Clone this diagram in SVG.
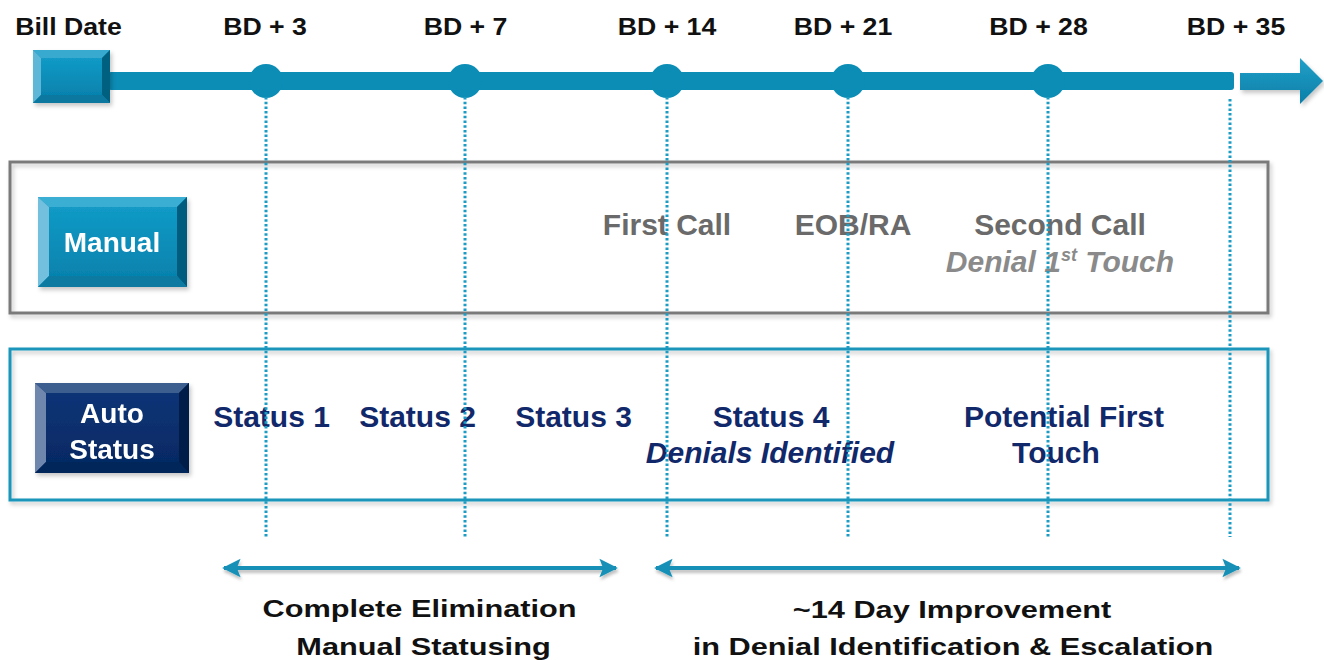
<svg xmlns="http://www.w3.org/2000/svg" width="1324" height="660" viewBox="0 0 1324 660">
  <defs>
    <style>
      .lbl { font-family: "Liberation Sans", Arial, sans-serif; font-weight: bold; text-anchor: middle; }
      .top { font-size: 23.5px; fill: #111111; }
      .btn { font-size: 28px; fill: #ffffff; }
      .man { font-size: 30px; fill: #6a6a6a; }
      .man-it { font-size: 30px; fill: #8a8a8a; font-style: italic; }
      .auto { font-size: 30px; fill: #11286a; }
      .auto-it { font-size: 30px; fill: #11286a; font-style: italic; }
      .foot { font-size: 24.5px; fill: #111111; }
      .guide { stroke: #1a9cc4; stroke-width: 3; stroke-dasharray: 2.5 2.2; fill: none; }
      .span { stroke: #1690b6; stroke-width: 4; fill: none; }
    </style>
    <linearGradient id="arrowFill" x1="0" y1="0" x2="0" y2="1">
      <stop offset="0" stop-color="#22a0c8"/>
      <stop offset="1" stop-color="#0a7ea8"/>
    </linearGradient>
    <linearGradient id="tealFace" x1="0" y1="0" x2="0" y2="1">
      <stop offset="0" stop-color="#129ac6"/>
      <stop offset="1" stop-color="#0683ae"/>
    </linearGradient>
    <linearGradient id="navyFace" x1="0" y1="0" x2="0" y2="1">
      <stop offset="0" stop-color="#0c3476"/>
      <stop offset="1" stop-color="#062a64"/>
    </linearGradient>
    <filter id="shadow" x="-10%" y="-10%" width="120%" height="130%">
      <feDropShadow dx="2" dy="3" stdDeviation="2" flood-color="#000000" flood-opacity="0.22"/>
    </filter>
    <!-- user-space region so the drop shadow also works on flat horizontal lines -->
    <filter id="lineShadow" filterUnits="userSpaceOnUse" x="200" y="550" width="1060" height="40">
      <feDropShadow dx="1" dy="3" stdDeviation="1.5" flood-color="#000000" flood-opacity="0.25"/>
    </filter>
    <marker id="spanHead" viewBox="0 0 10 10" refX="9" refY="5" markerWidth="4.6" markerHeight="5" orient="auto-start-reverse" markerUnits="strokeWidth">
      <path d="M0,0 L10,5 L0,10 L2,5 Z" fill="#1690b6"/>
    </marker>
  </defs>

  <rect width="1324" height="660" fill="#ffffff"/>

  <!-- Timeline: bill date block, bar, milestone dots and end arrow -->
  <g id="timeline">
    <rect x="108" y="72" width="1126" height="18" rx="3" fill="#0b8db6"/>
    <g id="bill-date-block" filter="url(#shadow)">
      <rect x="33" y="50" width="77" height="53" fill="#0a8ab5"/>
      <polygon points="33,50 110,50 102,58 41,58" fill="#38a9cf"/>
      <polygon points="33,50 41,58 41,95 33,103" fill="#5fb7d8"/>
      <polygon points="110,50 110,103 102,95 102,58" fill="#00607f"/>
      <polygon points="33,103 110,103 102,95 41,95" fill="#0a789f"/>
      <rect x="41" y="58" width="61" height="37" fill="url(#tealFace)"/>
    </g>
    <circle cx="266" cy="81" r="17" fill="#0b8db6"/>
    <circle cx="465" cy="81" r="17" fill="#0b8db6"/>
    <circle cx="667" cy="81" r="17" fill="#0b8db6"/>
    <circle cx="848" cy="81" r="17" fill="#0b8db6"/>
    <circle cx="1048" cy="81" r="17" fill="#0b8db6"/>
    <polygon points="1240,73 1300,73 1300,58 1323,81 1300,104 1300,90 1240,90" fill="url(#arrowFill)" filter="url(#shadow)"/>
  </g>

  <!-- Timeline headings (set slightly wide) -->
  <g id="headings" class="lbl top">
    <text transform="translate(68.5,35) scale(1.135,1)">Bill Date</text>
    <text transform="translate(265,35) scale(1.135,1)">BD + 3</text>
    <text transform="translate(465.5,35) scale(1.135,1)">BD + 7</text>
    <text transform="translate(667,35) scale(1.135,1)">BD + 14</text>
    <text transform="translate(843,35) scale(1.135,1)">BD + 21</text>
    <text transform="translate(1038.5,35) scale(1.135,1)">BD + 28</text>
    <text transform="translate(1236,35) scale(1.135,1)">BD + 35</text>
  </g>

  <!-- Manual process row -->
  <g id="manual-row">
    <rect x="10" y="162" width="1258" height="151" fill="none" stroke="#7a7a7a" stroke-width="3" filter="url(#shadow)"/>
    <g id="manual-button" filter="url(#shadow)">
      <rect x="38" y="197" width="149" height="90" fill="#0a8ab5"/>
      <polygon points="38,197 187,197 177,207 49,207" fill="#3aaed4"/>
      <polygon points="38,197 49,207 49,276 38,287" fill="#72c0dd"/>
      <polygon points="187,197 187,287 177,276 177,207" fill="#005c7e"/>
      <polygon points="38,287 187,287 177,276 49,276" fill="#0b7aa2"/>
      <rect x="49" y="207" width="128" height="69" fill="url(#tealFace)"/>
      <text class="lbl btn" x="112" y="252">Manual</text>
    </g>
    <g class="lbl">
      <text class="man" x="667" y="235">First Call</text>
      <text class="man" x="853" y="235">EOB/RA</text>
      <text class="man" x="1060" y="235">Second Call</text>
      <text class="man-it" x="1060" y="272">Denial 1<tspan font-size="18" dy="-11">st</tspan><tspan dy="11"> Touch</tspan></text>
    </g>
  </g>

  <!-- Automated status row -->
  <g id="auto-row">
    <rect x="10" y="349" width="1258" height="151" fill="none" stroke="#1b95bb" stroke-width="3" filter="url(#shadow)"/>
    <g id="auto-button" filter="url(#shadow)">
      <rect x="35" y="383" width="154" height="90" fill="#082d6a"/>
      <polygon points="35,383 189,383 179,393 46,393" fill="#3d5e90"/>
      <polygon points="35,383 46,393 46,462 35,473" fill="#6f87ad"/>
      <polygon points="189,383 189,473 179,462 179,393" fill="#001c48"/>
      <polygon points="35,473 189,473 179,462 46,462" fill="#06265a"/>
      <rect x="46" y="393" width="133" height="69" fill="url(#navyFace)"/>
      <text class="lbl btn" x="112" y="423" font-size="29">Auto</text>
      <text class="lbl btn" x="112" y="459" font-size="29">Status</text>
    </g>
    <g class="lbl">
      <text class="auto" x="271.5" y="427">Status 1</text>
      <text class="auto" x="417.5" y="427">Status 2</text>
      <text class="auto" x="573.5" y="427">Status 3</text>
      <text class="auto" x="771" y="427">Status 4</text>
      <text class="auto-it" x="770" y="463">Denials Identified</text>
      <text class="auto" x="1064" y="427">Potential First</text>
      <text class="auto" x="1056" y="463">Touch</text>
    </g>
  </g>

  <!-- Connectors: milestone guide lines and span arrows -->
  <g id="connectors">
    <line class="guide" x1="266" y1="97" x2="266" y2="537"/>
    <line class="guide" x1="465" y1="97" x2="465" y2="537"/>
    <line class="guide" x1="667" y1="97" x2="667" y2="537"/>
    <line class="guide" x1="848" y1="97" x2="848" y2="537"/>
    <line class="guide" x1="1048" y1="97" x2="1048" y2="537"/>
    <line class="guide" x1="1230" y1="99" x2="1230" y2="537"/>
    <g filter="url(#lineShadow)">
      <line class="span" x1="224" y1="568" x2="616" y2="568" marker-start="url(#spanHead)" marker-end="url(#spanHead)"/>
      <line class="span" x1="656" y1="568" x2="1239" y2="568" marker-start="url(#spanHead)" marker-end="url(#spanHead)"/>
    </g>
  </g>

  <!-- Span captions (set wide) -->
  <g id="captions" class="lbl foot">
    <text transform="translate(419.5,617) scale(1.255,1)">Complete Elimination</text>
    <text transform="translate(423.5,655) scale(1.255,1)">Manual Statusing</text>
    <text transform="translate(952,618) scale(1.255,1)">~14 Day Improvement</text>
    <text transform="translate(953,655) scale(1.255,1)">in Denial Identification &amp; Escalation</text>
  </g>
</svg>
